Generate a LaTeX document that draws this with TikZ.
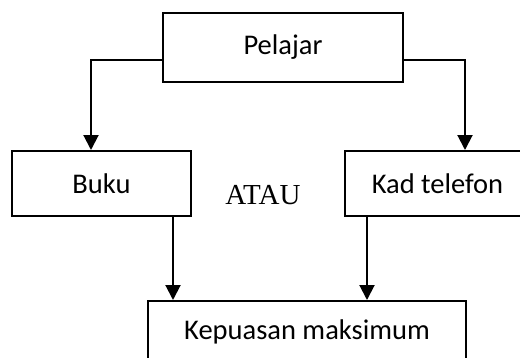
\documentclass[tikz,border=0pt]{standalone}
\usepackage{fontspec}
\setmainfont{Carlito}
\newfontfamily\serifatau{Liberation Serif}
\usetikzlibrary{arrows.meta}
\begin{document}
\begin{tikzpicture}[x=1pt,y=-1pt,
  box/.style={draw, line width=2pt, rectangle, inner sep=0pt,
    font=\fontsize{28.5}{34}\selectfont},
  arr/.style={line width=2pt, -{Triangle[width=15pt,length=15pt]}}]
\useasboundingbox (0,0) rectangle (520,357);
\clip (0,0) rectangle (520,357);
\fill[white] (0,0) rectangle (520,357);
\node[box, minimum width=240pt, minimum height=69pt] (pel) at (283,47.5) {Pelajar};
\node[box, minimum width=179pt, minimum height=65pt] (buku) at (101.5,183.5) {Buku};
\node[box, minimum width=185pt, minimum height=65pt] (kad) at (437.5,183.5) {Kad telefon};
\node[box, minimum width=318pt, minimum height=62pt] (kep) at (307,332) {Kepuasan maksimum};
\node[font=\serifatau\fontsize{29}{34}\selectfont, inner sep=0pt] (atau) at (263,195) {ATAU};
\draw[arr] ([yshift=-12.5pt]pel.west) -| ([xshift=-10.5pt]buku.north);
\draw[arr] ([yshift=-12.5pt]pel.east) -| ([xshift=27.5pt]kad.north);
\draw[arr] ([xshift=71.5pt]buku.south) -- ([xshift=71.5pt]buku.south |- kep.north);
\draw[arr] ([xshift=-70.5pt]kad.south) -- ([xshift=-70.5pt]kad.south |- kep.north);
\end{tikzpicture}
\end{document}
